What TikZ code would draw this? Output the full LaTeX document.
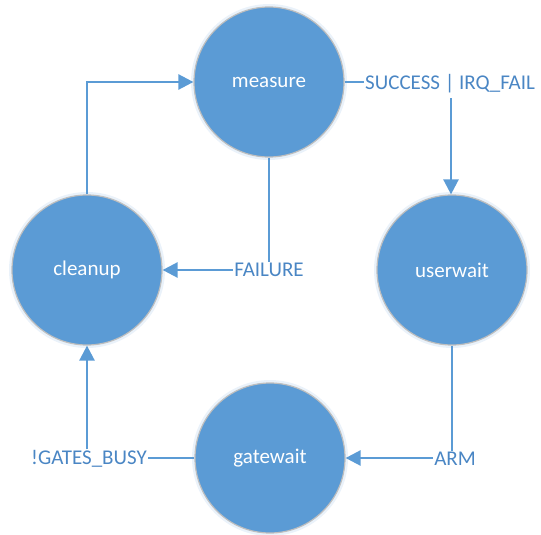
\documentclass[tikz,border=0pt]{standalone}
\usepackage{fontspec}
\setmainfont{Carlito}
\usetikzlibrary{arrows.meta}
\definecolor{stateblue}{HTML}{5B9BD5}
\definecolor{labelblue}{HTML}{4A86C4}
\definecolor{rimgray}{HTML}{BFBFBF}
\definecolor{halo}{HTML}{EAF2FA}
\tikzset{
  state/.style={circle, fill=stateblue, draw=rimgray, line width=1.2pt, minimum size=150pt, inner sep=0pt, text=white, font=\fontsize{21}{25}\selectfont},
  cond/.style={inner sep=1pt, text=labelblue, font=\fontsize{21}{25}\selectfont},
  link/.style={draw=stateblue, line width=2.5pt},
  arr/.style={link, -{Triangle[width=15pt,length=15pt]}}
}
\begin{document}
\begin{tikzpicture}[x=1pt,y=-1pt]
\useasboundingbox (0,0) rectangle (541,535);
\foreach \p in {(269,82),(87,270),(452,270),(270,458)}
  \fill[halo] \p circle (78pt);
\node[state] (measure) at (269,82) {measure};
\node[state] (cleanup) at (87,270) {cleanup};
\node[state] (userwait) at (452,270) {userwait};
\node[state] (gatewait) at (270,458) {gatewait};
\node[cond, anchor=west] (succ) at (364,84) {SUCCESS | IRQ\_FAIL};
\node[cond] (fail) at (269,270) {FAILURE};
\node[cond] (arm) at (455,459) {ARM};
\node[cond] (busy) at (89,459) {!GATES\_BUSY};
\coordinate (bar) at (451,98);
% measure -> userwait
\draw[link] (measure.east) -- (measure.east -| succ.west);
\draw[arr] (bar) -- (bar |- userwait.north);
% measure -> cleanup
\draw[link] (measure.south) -- (measure.south |- fail.north);
\draw[arr] (fail.west |- cleanup.east) -- (cleanup.east);
% cleanup -> measure
\draw[arr] (cleanup.north) |- (measure.west);
% userwait -> gatewait
\draw[link] (userwait.south) -- (userwait.south |- arm.north);
\draw[arr] (arm.west |- gatewait.east) -- (gatewait.east);
% gatewait -> cleanup
\draw[link] (gatewait.west) -- (gatewait.west -| busy.east);
\draw[arr] (cleanup.south |- busy.north) -- (cleanup.south);
\end{tikzpicture}
\end{document}
